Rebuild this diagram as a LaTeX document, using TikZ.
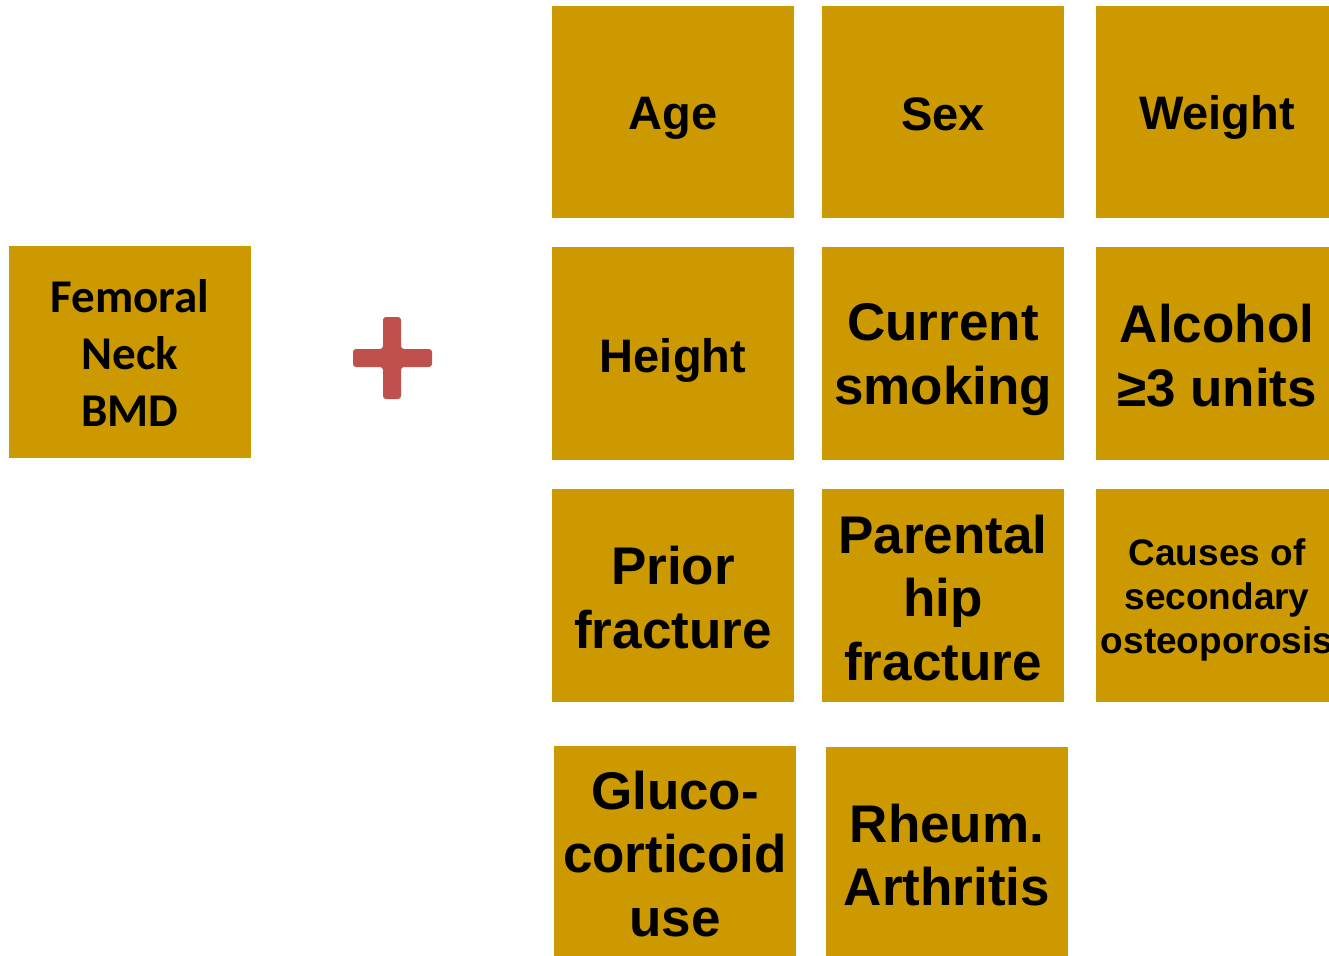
\documentclass[tikz,border=0pt]{standalone}
\usepackage{fontspec}
\setmainfont{Liberation Sans}
\newfontfamily\calfont{Carlito}
\definecolor{gold}{RGB}{204,153,0}
\definecolor{plusred}{RGB}{192,80,77}
\tikzset{
  box/.style={fill=gold, draw=none, inner sep=0pt, minimum width=242pt, minimum height=212pt},
  lbl/.style={inner sep=0pt, align=center, text=black, font=\bfseries\fontsize{53}{63.5}\selectfont},
  small/.style={font=\bfseries\fontsize{47}{56}\selectfont},
  tiny/.style={font=\bfseries\fontsize{37}{44}\selectfont},
  bmd/.style={font=\calfont\bfseries\fontsize{47}{57}\selectfont}
}
\begin{document}
\begin{tikzpicture}[x=1pt,y=-1pt]
\useasboundingbox (0,0) rectangle (1329,955);
\clip (0,0) rectangle (1329,955);
\fill[white] (0,0) rectangle (1329,955);
% left box
\node[box] (bmd) at (130,352) {};
\node[lbl,bmd,yshift=-1pt] (bmdt) at (bmd.center) {Femoral\\Neck\\BMD};
% plus
\fill[plusred, rounded corners=3pt] (383,317) -- (401,317) -- (401,349) -- (432,349) -- (432,367) -- (401,367) -- (401,399) -- (383,399) -- (383,367) -- (353,367) -- (353,349) -- (383,349) -- cycle;
% row 1
\node[box] (age) at (673,112) {};
\node[lbl,small,yshift=-6pt] (aget) at (age.center) {Age};
\node[box] (sex) at (943,112) {};
\node[lbl,small,yshift=-2pt] (sext) at (sex.center) {Sex};
\node[box] (weight) at (1217,112) {};
\node[lbl,small,yshift=-5pt] (weightt) at (weight.center) {Weight};
% row 2
\node[box,minimum height=213pt] (height) at (673,353.5) {};
\node[lbl,small,yshift=-7pt] (heightt) at (height.center) {Height};
\node[box,minimum height=213pt] (smoke) at (943,353.5) {};
\node[lbl,yshift=-6pt] (smoket) at (smoke.center) {Current\\smoking};
\node[box,minimum height=213pt] (alc) at (1217,353.5) {};
\node[lbl,yshift=-2pt] (alct) at (alc.center) {Alcohol\\≥3 units};
% row 3
\node[box,minimum height=213pt] (prior) at (673,595.5) {};
\node[lbl,yshift=-2pt] (priort) at (prior.center) {Prior\\fracture};
\node[box,minimum height=213pt] (parent) at (943,595.5) {};
\node[lbl,yshift=-2.5pt] (parentt) at (parent.center) {Parental\\hip\\fracture};
\node[box,minimum height=213pt] (causes) at (1217,595.5) {};
\node[lbl,tiny,yshift=-4pt] (causest) at (causes.center) {Causes of\\secondary\\osteoporosis};
% row 4
\node[box] (gluco) at (675,852) {};
\node[lbl,yshift=-2pt] (glucot) at (gluco.center) {Gluco-\\corticoid\\use};
\node[box] (rheum) at (947,853) {};
\node[lbl,yshift=-2pt] (rheumt) at (rheum.center) {Rheum.\\Arthritis};
\end{tikzpicture}
\end{document}
